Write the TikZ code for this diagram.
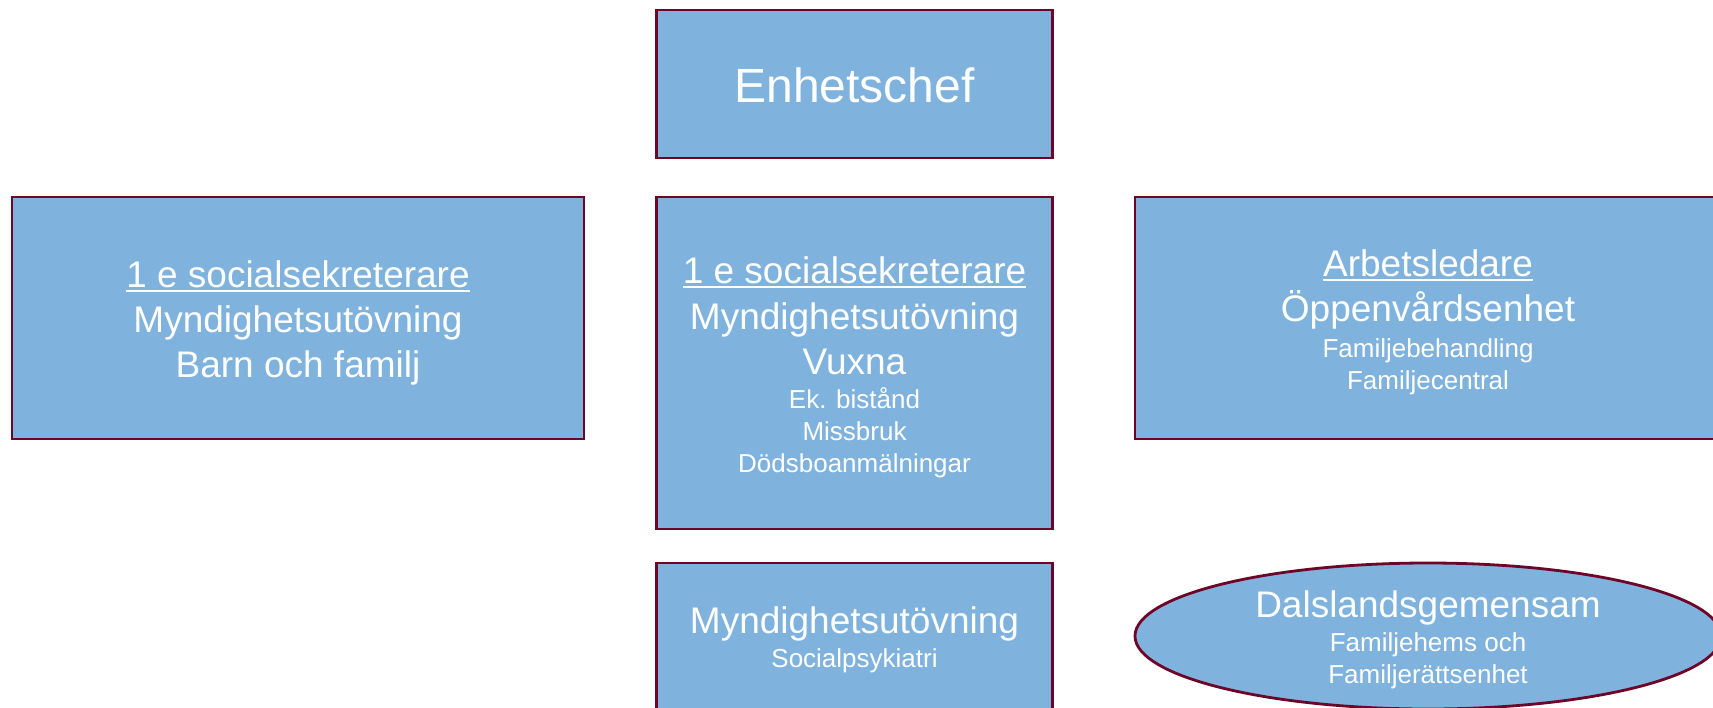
\documentclass[tikz,border=0pt]{standalone}
\usepackage{fontspec}
\setmainfont{Liberation Sans}
\usetikzlibrary{shapes.geometric}
\definecolor{boxfill}{RGB}{127,179,222}
\definecolor{boxline}{RGB}{110,4,40}
\newcommand\sm[1]{{\fontsize{26}{32}\selectfont #1}}
\newcommand\myul[1]{\setbox0\hbox{#1}\usebox0\llap{\rule[-4.5pt]{\wd0}{2.5pt}}}
\newcommand\topgap[1]{\rule{0pt}{#1}}
\tikzset{
  unit/.style={draw=boxline, fill=boxfill, line width=2.8pt, text=white, align=center, inner sep=0pt, font=\fontsize{37}{45}\selectfont},
  unitbox/.style={unit, rectangle},
  unitoval/.style={unit, ellipse, inner ysep=-14pt},
}
\begin{document}
\begin{tikzpicture}[x=1pt,y=-1pt]
\useasboundingbox (0,0) rectangle (1713,707);
\clip (0,0) rectangle (1713,707);
\node[unitbox, minimum width=396pt, minimum height=148pt, font=\fontsize{48}{56}\selectfont] (chef) at (854.5,84) {\topgap{38pt}Enhetschef};
\node[unitbox, minimum width=572pt, minimum height=242pt] (barn) at (298,318) {\topgap{37pt}\myul{1 e socialsekreterare}\\Myndighetsutövning\\Barn och familj};
\node[unitbox, minimum width=396pt, minimum height=332pt] (vuxna) at (854.5,363) {\topgap{36pt}\myul{1 e socialsekreterare}\\[1pt]Myndighetsutövning\\Vuxna\\[-11pt]\sm{Ek. bistånd}\\[-13pt]\sm{Missbruk}\\[-13pt]\sm{Dödsboanmälningar}};
\node[unitbox, minimum width=586pt, minimum height=242pt] (oppen) at (1428,318) {\topgap{35pt}\myul{Arbetsledare}\\Öppenvårdsenhet\\[-9.5pt]\sm{Familjebehandling}\\[-13pt]\sm{Familjecentral}};
\node[unitbox, minimum width=396pt, minimum height=154pt] (psyk) at (854.5,640) {Myndighetsutövning\\[-10.5pt]\sm{Socialpsykiatri}};
\node[unitoval, minimum width=586pt, minimum height=146pt] (dals) at (1428,636) {\topgap{34pt}Dalslandsgemensam\\[-10.5pt]\sm{Familjehems och}\\[-13pt]\sm{Familjerättsenhet}};
\end{tikzpicture}
\end{document}
